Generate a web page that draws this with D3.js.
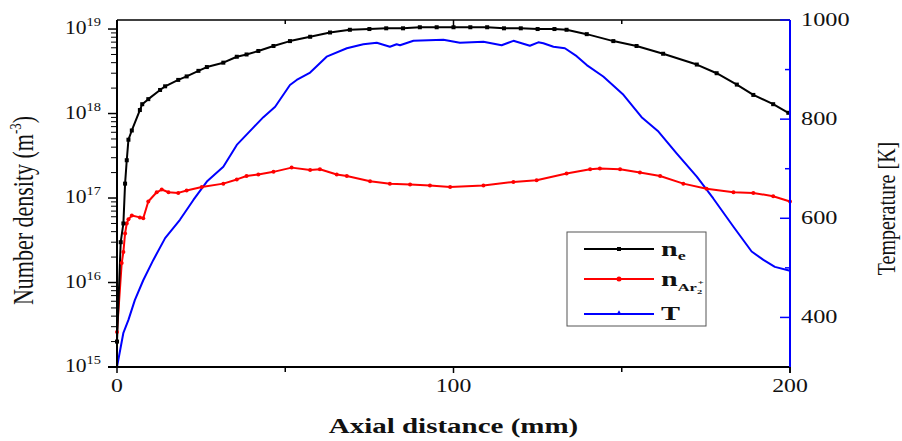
<!DOCTYPE html>
<html>
<head>
<meta charset="utf-8">
<script src="https://cdn.jsdelivr.net/npm/d3@7"></script>
<style>
  body { margin: 0; background: #fff; }
  text { font-family: "Liberation Serif", "Times New Roman", serif; }
</style>
</head>
<body>
<svg id="chart" width="902" height="441"></svg>
<script>
// axial distance (mm) and values
var neX = [0, 1.1, 1.9, 2.4, 2.9, 3.4, 4.4, 6.8, 7.5, 9.3, 12.8, 14.3, 18.2, 20.7, 24.2, 26.7, 31.6, 35.6, 38.5, 42.0, 46.5, 51.4, 57.4, 63.3, 69.2, 75, 80, 85, 90, 95, 100, 105, 110, 115, 120, 125, 130, 133.6, 139.6, 147.5, 154.4, 162.3, 172.3, 178.2, 184.2, 189.1, 195.0, 199.5];
var neY = [2.0e15, 3.0e16, 5.0e16, 1.48e17, 2.8e17, 4.9e17, 6.3e17, 1.1e18, 1.29e18, 1.48e18, 1.9e18, 2.1e18, 2.5e18, 2.75e18, 3.2e18, 3.55e18, 4.0e18, 4.7e18, 5.0e18, 5.5e18, 6.3e18, 7.2e18, 8.1e18, 9.1e18, 9.8e18, 1.0e19, 1.02e19, 1.02e19, 1.05e19, 1.05e19, 1.05e19, 1.05e19, 1.05e19, 1.02e19, 1.02e19, 1.0e19, 1.0e19, 9.8e18, 8.7e18, 7.2e18, 6.3e18, 5.1e18, 3.8e18, 3.0e18, 2.2e18, 1.66e18, 1.29e18, 1.02e18];

var arX = [0, 1.4, 1.9, 2.4, 2.9, 3.4, 4.4, 6.8, 7.8, 9.3, 11.8, 13.3, 15.3, 18.2, 20.7, 25.2, 31.6, 35.6, 38.5, 42.0, 46.5, 51.9, 57.4, 60.3, 65.3, 68.3, 75.2, 81.1, 87.1, 93.0, 99.0, 108.9, 117.8, 124.7, 133.6, 140.6, 143.5, 149.5, 155.4, 161.4, 168.3, 175.2, 183.2, 189.1, 195.0, 200];
var arY = [2.6e15, 1.7e16, 2.3e16, 3.8e16, 5.0e16, 5.6e16, 6.2e16, 5.9e16, 5.75e16, 9.1e16, 1.17e17, 1.26e17, 1.17e17, 1.15e17, 1.23e17, 1.35e17, 1.48e17, 1.66e17, 1.82e17, 1.9e17, 2.04e17, 2.29e17, 2.14e17, 2.19e17, 1.9e17, 1.82e17, 1.58e17, 1.48e17, 1.45e17, 1.41e17, 1.35e17, 1.41e17, 1.55e17, 1.62e17, 1.95e17, 2.19e17, 2.24e17, 2.19e17, 2.0e17, 1.82e17, 1.48e17, 1.29e17, 1.17e17, 1.15e17, 1.05e17, 9.1e16];

var tX = [0, 1.9, 3.4, 5.3, 7.8, 10.8, 14.3, 18.7, 22.7, 26.7, 31.6, 35.6, 40.5, 43.5, 47.0, 51.4, 53.4, 57.4, 62.3, 68.3, 73.2, 77.2, 81.1, 83.1, 84.1, 88.1, 97.0, 101.9, 108.9, 114.3, 117.8, 122.7, 125.2, 126.7, 129.7, 133.1, 136.6, 139.6, 144.5, 150.5, 155.9, 160.9, 166.3, 172.3, 177.2, 183.2, 188.6, 192.1, 195.5, 200];
var tY = [300, 369, 395, 435, 475, 516, 560, 597, 637, 674, 704, 748, 783, 804, 825, 869, 879, 894, 926, 943, 951, 954, 946, 951, 949, 958, 960, 954, 956, 949, 958, 948, 955, 953, 946, 943, 927, 909, 886, 849, 804, 775, 731, 684, 640, 583, 533, 516, 502, 494];

var xTicks = [0, 100, 200];
var xMinor = [50, 150];
var densTicks = [15, 16, 17, 18, 19];     // exponents of 10
var tempTicks = [400, 600, 800, 1000];
var tempMinor = [500, 700, 900];

var margin = { left: 117, top: 20, right: 112, bottom: 74 };
var W = 902 - margin.left - margin.right;
var H = 441 - margin.top - margin.bottom;

var svg = d3.select("#chart");
var g = svg.append("g").attr("transform", "translate(" + margin.left + "," + margin.top + ")");

var x = d3.scaleLinear().domain([0, 200]).range([0, W]);
var yD = d3.scaleLog().domain([1e15, Math.pow(10, 19.107)]).range([H, 0]);
var yT = d3.scaleLinear().domain([300, 1000]).range([H, 0]);

// stretched text, the original figure is wider than its font
function label(parent, px, py, sx, anchor, size, weight) {
    return parent.append("text")
        .attr("transform", "translate(" + px + "," + py + ") scale(" + sx + ",1)")
        .attr("text-anchor", anchor)
        .style("font-size", size + "px")
        .style("font-weight", weight || "normal")
        .style("fill", "#111");
}

// data lines
function series(xs, ys, yScale, color) {
    var pts = xs.map(function (d, i) { return [x(d), yScale(ys[i])]; });
    g.append("path")
        .attr("d", d3.line()(pts))
        .attr("fill", "none")
        .attr("stroke", color)
        .attr("stroke-width", 2)
        .attr("stroke-linejoin", "round");
    return pts;
}

var ptsT = series(tX, tY, yT, "#0000ff");
var ptsAr = series(arX, arY, yD, "#ff0000");
var ptsNe = series(neX, neY, yD, "#000000");

g.selectAll(".mAr").data(ptsAr).enter().append("circle")
    .attr("cx", function (d) { return d[0]; })
    .attr("cy", function (d) { return d[1]; })
    .attr("r", 2).attr("fill", "#ff0000");
g.selectAll(".mNe").data(ptsNe).enter().append("rect")
    .attr("x", function (d) { return d[0] - 2; })
    .attr("y", function (d) { return d[1] - 2; })
    .attr("width", 4).attr("height", 4).attr("fill", "#000");

// frame: top line
g.append("line").attr("x1", 0).attr("x2", W).attr("y1", 0).attr("y2", 0)
    .attr("stroke", "#000").attr("stroke-width", 1.5);
xTicks.concat(xMinor).forEach(function (v) {
    g.append("line").attr("x1", x(v)).attr("x2", x(v)).attr("y1", 0)
        .attr("y2", xMinor.indexOf(v) >= 0 ? 4 : 6).attr("stroke", "#000").attr("stroke-width", 1.5);
});

// bottom axis
g.append("line").attr("x1", -9).attr("x2", W).attr("y1", H).attr("y2", H)
    .attr("stroke", "#000").attr("stroke-width", 2);
xTicks.concat(xMinor).forEach(function (v) {
    g.append("line").attr("x1", x(v)).attr("x2", x(v)).attr("y1", H)
        .attr("y2", H + (xMinor.indexOf(v) >= 0 ? 5 : 6)).attr("stroke", "#000").attr("stroke-width", 1.5);
});
xTicks.forEach(function (v) {
    label(g, x(v), H + 25, 1.25, "middle", 19).text(v);
});
label(g, W / 2, H + 66, 1.45, "middle", 20, "bold").text("Axial distance (mm)");

// left axis, log
g.append("line").attr("x1", 0).attr("x2", 0).attr("y1", 0).attr("y2", H)
    .attr("stroke", "#000").attr("stroke-width", 2);
densTicks.forEach(function (e) {
    var yy = yD(Math.pow(10, e));
    g.append("line").attr("x1", -9).attr("x2", 0).attr("y1", yy).attr("y2", yy)
        .attr("stroke", "#000").attr("stroke-width", 1.5);
    if (e < 19) {
        for (var k = 2; k <= 9; k++) {
            var ym = yD(k * Math.pow(10, e));
            g.append("line").attr("x1", -6).attr("x2", 0).attr("y1", ym).attr("y2", ym)
                .attr("stroke", "#000").attr("stroke-width", 1);
        }
    }
    var t = label(g, -16, yy + 5, 1.2, "end", 18);
    t.append("tspan").text("10");
    t.append("tspan").attr("dy", -8).style("font-size", "12px").text(e);
});
var yl = g.append("text")
    .attr("transform", "translate(-84," + (H / 2 + 17) + ") rotate(-90) scale(1,1.3)")
    .attr("text-anchor", "middle")
    .style("font-size", "22px").style("fill", "#111");
yl.append("tspan").text("Number density (m");
yl.append("tspan").attr("dy", -9).style("font-size", "13px").text("-3");
yl.append("tspan").attr("dy", 9).text(")");

// right axis, temperature
g.append("line").attr("x1", W).attr("x2", W).attr("y1", 0).attr("y2", H)
    .attr("stroke", "#0000ff").attr("stroke-width", 2);
tempTicks.concat(tempMinor).forEach(function (v) {
    g.append("line").attr("x1", W - (tempMinor.indexOf(v) >= 0 ? 5 : 10)).attr("x2", W)
        .attr("y1", yT(v)).attr("y2", yT(v))
        .attr("stroke", "#0000ff").attr("stroke-width", 1.5);
});
g.append("line").attr("x1", W).attr("x2", W).attr("y1", H).attr("y2", H + 6)
    .attr("stroke", "#000").attr("stroke-width", 1.5);
tempTicks.forEach(function (v) {
    label(g, W + 11, yT(v) + 6, 1.35, "start", 18).text(v);
});
g.append("text")
    .attr("transform", "translate(" + (W + 105) + "," + (H / 2 + 15) + ") rotate(-90) scale(1,1.3)")
    .attr("text-anchor", "middle")
    .style("font-size", "20px").style("fill", "#111")
    .text("Temperature [K]");

// legend
var lg = svg.append("g").attr("transform", "translate(567,232)");
lg.append("rect").attr("width", 139).attr("height", 94)
    .attr("fill", "#fff").attr("stroke", "#555").attr("stroke-width", 1);
var legendRows = [
    { color: "#000", y: 17, mark: "rect" },
    { color: "#ff0000", y: 47, mark: "circle" },
    { color: "#0000ff", y: 82, mark: "tri" }
];
legendRows.forEach(function (r) {
    lg.append("line").attr("x1", 17).attr("x2", 87).attr("y1", r.y).attr("y2", r.y)
        .attr("stroke", r.color).attr("stroke-width", 2);
    if (r.mark === "rect") {
        lg.append("rect").attr("x", 50).attr("y", r.y - 2).attr("width", 4).attr("height", 4).attr("fill", r.color);
    } else if (r.mark === "circle") {
        lg.append("circle").attr("cx", 52).attr("cy", r.y).attr("r", 2.5).attr("fill", r.color);
    } else {
        lg.append("path").attr("d", d3.symbol().type(d3.symbolTriangle).size(10)())
            .attr("transform", "translate(52," + (r.y - 1) + ")").attr("fill", r.color);
    }
});
var l1 = label(lg, 94, 24, 1.5, "start", 20, "bold");
l1.append("tspan").text("n");
l1.append("tspan").attr("dy", 4).style("font-size", "12px").text("e");
var l2 = label(lg, 94, 54, 1.5, "start", 20, "bold");
l2.append("tspan").text("n");
l2.append("tspan").attr("dy", 5).style("font-size", "11px").text("Ar");
l2.append("tspan").attr("dy", 3).style("font-size", "7px").text("2");
l2.append("tspan").attr("dx", -3).attr("dy", -9).style("font-size", "7px").text("+");
label(lg, 94, 88, 1.5, "start", 19, "bold").text("T");
</script>
</body>
</html>
